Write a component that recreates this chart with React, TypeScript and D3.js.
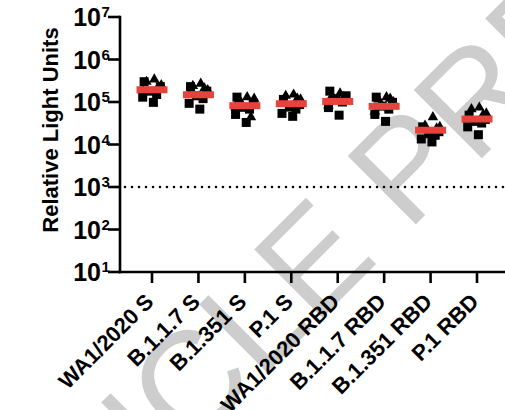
import React from "react";
import * as d3 from "d3";

const categories = [
  "WA1/2020 S",
  "B.1.1.7 S",
  "B.1.351 S",
  "P.1 S",
  "WA1/2020 RBD",
  "B.1.1.7 RBD",
  "B.1.351 RBD",
  "P.1 RBD",
];

const squareValues = [
  [3.0e5, 2.3e5, 1.8e5, 1.5e5, 1.3e5, 9.8e4],
  [2.3e5, 1.8e5, 1.4e5, 1.2e5, 9.3e4, 6.8e4],
  [1.3e5, 9.3e4, 7.5e4, 6.8e4, 5.1e4, 3.3e4],
  [1.15e5, 8.7e4, 7.6e4, 6.8e4, 5.4e4, 4.6e4],
  [1.8e5, 1.4e5, 1.2e5, 1.0e5, 7.4e4, 4.9e4],
  [1.3e5, 9.8e4, 8.0e4, 6.8e4, 5.1e4, 3.5e4],
  [2.6e4, 2.0e4, 1.8e4, 1.65e4, 1.35e4, 1.15e4],
  [4.9e4, 3.9e4, 3.5e4, 3.2e4, 2.6e4, 1.7e4],
];

const triangleValues = [
  [3.4e5, 3.0e5, 2.5e5, 1.9e5, 2.2e5],
  [2.7e5, 2.4e5, 1.9e5, 1.6e5, 2.1e5],
  [1.3e5, 1.15e5, 1.2e5, 7.4e4, 4.4e4],
  [1.5e5, 1.4e5, 1.15e5, 1.0e5, 1.2e5],
  [1.6e5, 1.4e5, 1.15e5, 8.3e4, 1.3e5],
  [1.3e5, 1.15e5, 1.0e5, 6.0e4, 1.2e5],
  [4.4e4, 2.8e4, 2.6e4, 2.3e4, 2.4e4],
  [7.4e4, 6.8e4, 5.4e4, 3.9e4, 5.0e4],
];

const medianValues = [1.94e5, 1.48e5, 8.2e4, 9.1e4, 1.03e5, 7.9e4, 2.17e4, 3.98e4];

// horizontal spread of the scatter, in fractions of the category step
const squareJitter = [-0.17, 0.18, -0.04, 0.1, -0.2, 0.03];
const triangleJitter = [0.05, -0.12, 0.2, -0.2, 0.13];

const yTickExponents = [1, 2, 3, 4, 5, 6, 7];
const thresholdValue = 1e3;
const yAxisTitle = "Relative Light Units";
const watermarkText = "ACCEPTED ARTICLE PREVIEW";

const FONT = "'Liberation Sans', Arial, Helvetica, sans-serif";

export default function App() {
  const width = 505;
  const height = 410;
  const axisX = 120;
  const axisY = 272;

  const y = d3.scaleLog().domain([10, 1e7]).range([272, 17]);
  const x = d3.scalePoint<string>().domain(categories).range([152, 477]);
  const step = x.step();

  const tri = d3.symbol().type(d3.symbolTriangle).size(48)() as string;
  const sq = 9;
  const barW = 31;
  const barH = 7;

  const wmFont = 140;
  const pStart = 10.224 * wmFont * Math.SQRT1_2;
  const wmX = 415 - pStart;
  const wmY = 225 + pStart;

  return (
    <svg
      width={width}
      height={height}
      style={{ position: "absolute", left: 0, top: 0, background: "#fff" }}
      fontFamily={FONT}
    >
      <rect x={0} y={0} width={width} height={height} fill="#fff" />
      {/* watermark */}
      <text
        transform={`translate(${wmX},${wmY}) rotate(-45)`}
        fontSize={wmFont}
        fill="#cdcdcd"
        fontFamily={FONT}
      >
        {watermarkText}
      </text>

      {/* threshold dotted line */}
      <line
        x1={axisX + 5}
        x2={width}
        y1={y(thresholdValue)}
        y2={y(thresholdValue)}
        stroke="#000"
        strokeWidth={2.6}
        strokeDasharray="0 7"
        strokeLinecap="round"
      />

      {/* points */}
      {categories.map((c, i) => {
        const cx = x(c) as number;
        return (
          <g key={c}>
            {squareValues[i].map((v, j) => (
              <rect
                key={"s" + j}
                x={cx + squareJitter[j % squareJitter.length] * step - sq / 2}
                y={y(v) - sq / 2}
                width={sq}
                height={sq}
                fill="#000"
              />
            ))}
            {triangleValues[i].map((v, j) => (
              <path
                key={"t" + j}
                d={tri}
                transform={`translate(${cx + triangleJitter[j % triangleJitter.length] * step},${y(v)})`}
                fill="#000"
              />
            ))}
            <rect
              x={cx - barW / 2}
              y={y(medianValues[i]) - barH / 2}
              width={barW}
              height={barH}
              fill="#e5433b"
            />
          </g>
        );
      })}

      {/* y axis */}
      <line x1={axisX} x2={axisX} y1={y(1e7) - 1.25} y2={axisY + 1.25} stroke="#000" strokeWidth={2.6} />
      {yTickExponents.map((e) => {
        const ty = y(Math.pow(10, e));
        return (
          <g key={e}>
            <line x1={axisX - 12} x2={axisX} y1={ty} y2={ty} stroke="#000" strokeWidth={2.6} />
            <text x={101} y={ty + 9} textAnchor="end" fontSize={25} fontWeight="bold">
              10
            </text>
            <text x={101.5} y={ty} textAnchor="start" fontSize={15} fontWeight="bold">
              {e}
            </text>
          </g>
        );
      })}

      {/* x axis */}
      <line x1={axisX - 1.3} x2={width} y1={axisY} y2={axisY} stroke="#000" strokeWidth={2.6} />
      {categories.map((c) => {
        const cx = x(c) as number;
        return (
          <g key={c}>
            <line x1={cx} x2={cx} y1={axisY} y2={axisY + 11} stroke="#000" strokeWidth={2.6} />
            <text
              transform={`translate(${cx + 3},${303}) rotate(-45)`}
              textAnchor="end"
              fontSize={22}
              fontWeight="bold"
            >
              {c}
            </text>
          </g>
        );
      })}

      {/* y title */}
      <text
        transform={`translate(${58},${130}) rotate(-90)`}
        textAnchor="middle"
        fontSize={22}
        fontWeight="bold"
      >
        {yAxisTitle}
      </text>
    </svg>
  );
}
